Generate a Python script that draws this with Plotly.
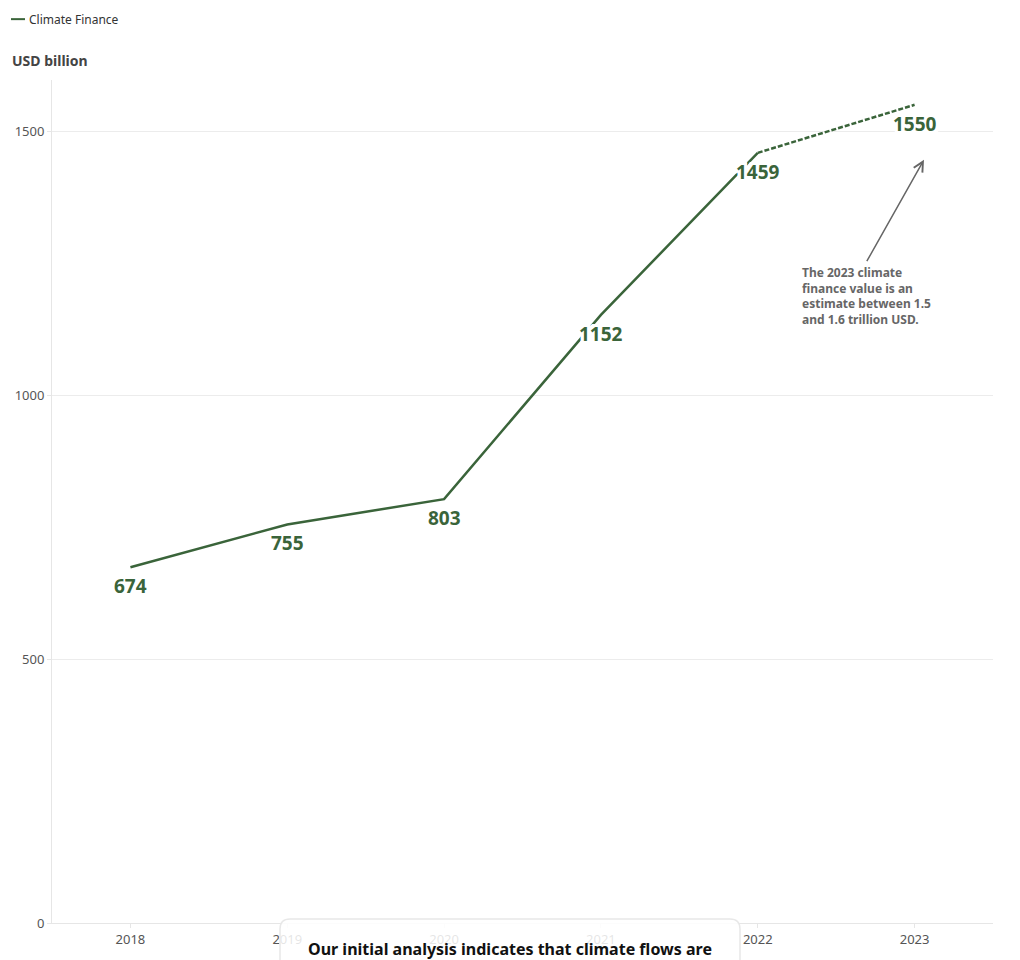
import plotly.graph_objects as go

years = ["2018", "2019", "2020", "2021", "2022", "2023"]
finance = [674, 755, 803, 1152, 1459, 1550]
y_ticks = [0, 500, 1000, 1500]

GREEN = "#3a643a"
FONT = "Noto Sans"
halo = ", ".join(f"{dx}px {dy}px 0 #fff" for dx in (-3, -2, 0, 2, 3)
                 for dy in (-3, -2, 0, 2, 3) if (dx, dy) != (0, 0))

fig = go.Figure()
fig.add_trace(go.Scatter(x=years[:5], y=finance[:5], mode="lines",
                         line=dict(color=GREEN, width=2.5), showlegend=False,
                         hoverinfo="skip"))
fig.add_trace(go.Scatter(x=years[4:], y=finance[4:], mode="lines",
                         line=dict(color=GREEN, width=2.5, dash="5px,2px"), showlegend=False,
                         hoverinfo="skip"))

for i, v in enumerate(finance):
    fig.add_annotation(x=i, y=v, text=f"<b>{v}</b>", showarrow=False, yshift=-19,
                       xanchor="center", yanchor="middle",
                       font=dict(family=FONT, size=19, color=GREEN, shadow=halo))

fig.update_layout(
    width=1020, height=960,
    margin=dict(l=52, r=27, t=80, b=35),
    plot_bgcolor="white", paper_bgcolor="white",
    font=dict(family=FONT, color="#555", size=13),
    xaxis=dict(type="category", range=[-0.5, 5.5], showgrid=False,
               showline=True, linecolor="#e6e6e6", ticks="outside", ticklen=4,
               tickcolor="#e6e6e6", tickfont=dict(size=13, color="#555"),
               zeroline=False, fixedrange=True),
    yaxis=dict(range=[0, 1597], tickvals=y_ticks, showgrid=True, gridcolor="#ececec",
               showline=True, linecolor="#e6e6e6", ticks="outside", ticklen=4,
               tickcolor="#e6e6e6", zeroline=False, tickfont=dict(size=13, color="#555"),
               fixedrange=True),
)

# legend (manual)
fig.add_shape(type="line", xref="paper", yref="paper",
              x0=(11 - 52) / 941, x1=(25 - 52) / 941, y0=(925 - 19) / 845, y1=(925 - 19) / 845,
              line=dict(color=GREEN, width=2))
fig.add_annotation(text="Climate Finance", xref="paper", yref="paper",
                   x=(27 - 52) / 941, y=(925 - 19) / 845, xanchor="left", yanchor="middle",
                   showarrow=False, font=dict(family=FONT, size=12, color="#333"))
fig.add_annotation(text="<b>USD billion</b>", xref="paper", yref="paper",
                   x=(10 - 52) / 941, y=(925 - 60) / 845, xanchor="left", yanchor="middle",
                   showarrow=False, font=dict(family=FONT, size=14, color="#444"))

# note with arrow
fig.add_annotation(x=5.06, y=1446, ax=866 - 924, ay=263 - 160, text="",
                   showarrow=True, arrowhead=5, arrowsize=1.3, arrowwidth=1.5,
                   arrowcolor="#666")
fig.add_annotation(text="<b>The 2023 climate<br>finance value is an<br>estimate between 1.5<br>and 1.6 trillion USD.</b>",
                   xref="paper", yref="paper", x=(800 - 52) / 941, y=(925 - 262) / 845,
                   xanchor="left", yanchor="top", align="left", showarrow=False,
                   font=dict(family=FONT, size=12, color="#666"))

# bottom card (rounded top corners)
def px(xp):
    return (xp - 52) / 941

def py(yp):
    return (925 - yp) / 845

r = 10
path = (f"M {px(280)},{py(990)} L {px(280)},{py(921 + r)} "
        f"Q {px(280)},{py(921)} {px(280 + r)},{py(921)} "
        f"L {px(740 - r)},{py(921)} Q {px(740)},{py(921)} {px(740)},{py(921 + r)} "
        f"L {px(740)},{py(990)} Z")
fig.add_shape(type="path", xref="paper", yref="paper", path=path,
              line=dict(color="#e8e8e8", width=1.5),
              fillcolor="rgba(255,255,255,0.85)", layer="above")
fig.add_annotation(text="<b>Our initial analysis indicates that climate flows are</b>",
                   xref="paper", yref="paper", x=px(510), y=py(951),
                   xanchor="center", yanchor="middle", showarrow=False,
                   font=dict(family=FONT, size=16, color="#111"))

fig.write_html("out.html")
